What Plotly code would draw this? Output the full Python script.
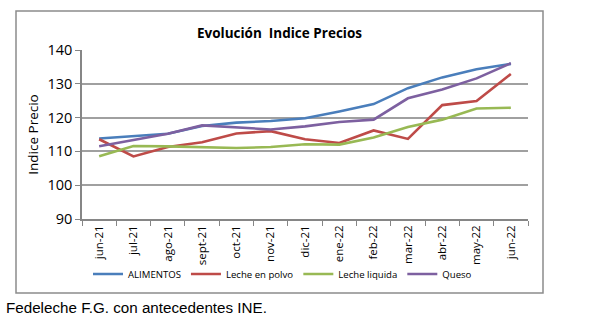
import plotly.graph_objects as go

months = ["jun-21", "jul-21", "ago-21", "sept-21", "oct-21", "nov-21", "dic-21",
          "ene-22", "feb-22", "mar-22", "abr-22", "may-22", "jun-22"]
alimentos = [113.8, 114.5, 115.2, 117.5, 118.5, 119.0, 119.8, 121.8, 124.0, 128.7, 131.9, 134.3, 135.9]
leche_polvo = [113.6, 108.5, 111.3, 112.7, 115.3, 116.0, 113.6, 112.5, 116.2, 113.7, 123.7, 124.9, 132.9]
leche_liquida = [108.6, 111.6, 111.5, 111.3, 111.0, 111.3, 112.1, 112.0, 114.1, 117.2, 119.4, 122.7, 122.9]
queso = [111.5, 113.3, 115.2, 117.7, 117.1, 116.5, 117.4, 118.7, 119.4, 125.7, 128.3, 131.6, 136.1]

series = [
    ("ALIMENTOS", alimentos, "#4A7EBB"),
    ("Leche en polvo", leche_polvo, "#BE4B48"),
    ("Leche liquida", leche_liquida, "#98B954"),
    ("Queso", queso, "#7D60A0"),
]

fig = go.Figure()
for name, vals, col in series:
    fig.add_trace(go.Scatter(x=months, y=vals, mode="lines", name=name,
                             line=dict(color=col, width=2.6)))

W, H = 600, 321
L, R, T, B = 82, 528, 50, 219
pw, ph = R - L, B - T

def px(x):
    return (x - L) / pw

def py(y):
    return (B - y) / ph

fig.update_layout(
    width=W, height=H,
    margin=dict(l=L, r=W - R, t=T, b=H - B),
    paper_bgcolor="white", plot_bgcolor="white",
    font=dict(family="Open Sans, Calibri, sans-serif", color="#000000"),
    title=dict(text="<b>Evolución  Indice Precios</b>", x=279.5 / W, xanchor="center",
               y=1 - 33 / H, yanchor="middle", font=dict(size=13.5, family="Open Sans")),
    showlegend=True,
    legend=dict(orientation="h", x=px(88), xanchor="left", y=py(274), yanchor="middle",
                font=dict(size=9.6), itemwidth=30, tracegroupgap=0,
                bgcolor="rgba(0,0,0,0)"),
    xaxis=dict(type="category", range=[-0.5, 12.5], tickangle=-90,
               tickson="boundaries", ticks="outside", ticklen=5, tickcolor="#868686",
               showline=True, linecolor="#868686", linewidth=1.5,
               showgrid=False, tickfont=dict(size=11.5), fixedrange=True),
    yaxis=dict(range=[90, 140], dtick=10, ticks="outside", ticklen=5, tickcolor="#868686",
               showline=True, linecolor="#868686", linewidth=1.5,
               showgrid=True, gridcolor="#A0A0A0", gridwidth=1.5,
               tickfont=dict(size=14.5), zeroline=False,
               title=dict(text="Indice Precio", font=dict(size=13.5), standoff=6)),
    shapes=[
        dict(type="rect", xref="paper", yref="paper",
             x0=px(16), x1=px(543), y0=py(293), y1=py(11),
             line=dict(color="#8C8C8C", width=1.5), layer="below"),
    ],
    annotations=[
        dict(text="Fedeleche F.G. con antecedentes INE.", xref="paper", yref="paper",
             x=px(4), y=py(307), xanchor="left", yanchor="middle", showarrow=False,
             font=dict(family="Liberation Sans, Arial", size=15.2, color="#000000")),
    ],
)

fig.write_html("out.html")
